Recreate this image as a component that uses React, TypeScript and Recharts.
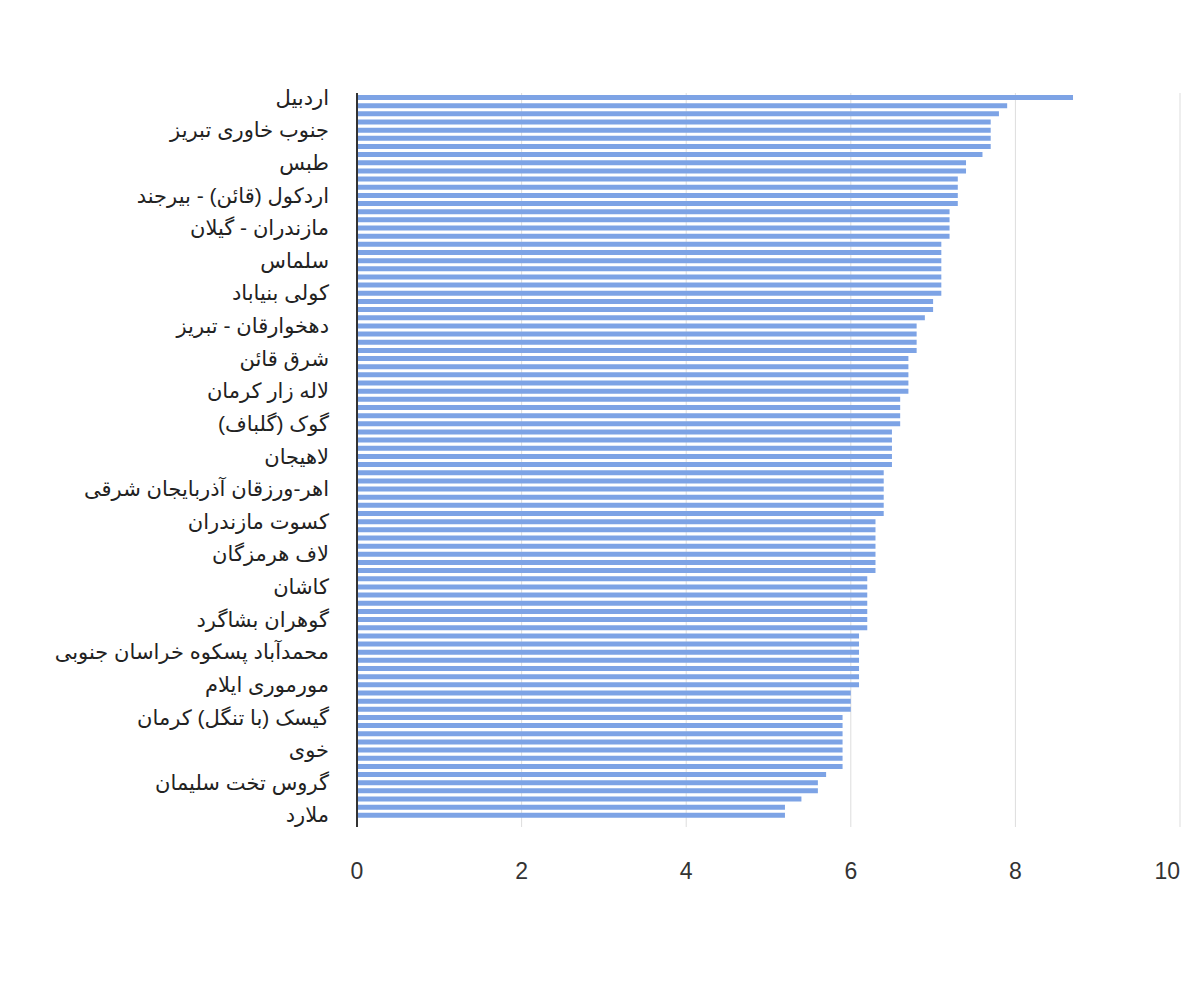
import { BarChart, Bar, XAxis, YAxis, CartesianGrid } from 'recharts';

// One name for every fourth bar (the only ones labelled on the axis)
const stations = [
  'اردبیل',
  'جنوب خاوری تبریز',
  'طبس',
  'اردکول (قائن) - بیرجند',
  'مازندران - گیلان',
  'سلماس',
  'کولی بنیاباد',
  'دهخوارقان - تبریز',
  'شرق قائن',
  'لاله زار کرمان',
  '(گلباف) گوک',
  'لاهیجان',
  'اهر-ورزقان آذربایجان شرقی',
  'کسوت مازندران',
  'لاف هرمزگان',
  'کاشان',
  'گوهران بشاگرد',
  'محمدآباد پسکوه خراسان جنوبی',
  'مورموری ایلام',
  'گیسک (با تنگل) کرمان',
  'خوی',
  'گروس تخت سلیمان',
  'ملارد',
];

const values = [
  8.7, 7.9, 7.8, 7.7, 7.7, 7.7, 7.7, 7.6,
  7.4, 7.4, 7.3, 7.3, 7.3, 7.3, 7.2, 7.2, 7.2, 7.2,
  7.1, 7.1, 7.1, 7.1, 7.1, 7.1, 7.1,
  7.0, 7.0, 6.9,
  6.8, 6.8, 6.8, 6.8,
  6.7, 6.7, 6.7, 6.7, 6.7,
  6.6, 6.6, 6.6, 6.6,
  6.5, 6.5, 6.5, 6.5, 6.5,
  6.4, 6.4, 6.4, 6.4, 6.4, 6.4,
  6.3, 6.3, 6.3, 6.3, 6.3, 6.3, 6.3,
  6.2, 6.2, 6.2, 6.2, 6.2, 6.2, 6.2,
  6.1, 6.1, 6.1, 6.1, 6.1, 6.1, 6.1,
  6.0, 6.0, 6.0,
  5.9, 5.9, 5.9, 5.9, 5.9, 5.9, 5.9,
  5.7, 5.6, 5.6, 5.4, 5.2, 5.2,
];

const xTicks = [0, 2, 4, 6, 8, 10];

const rows = values.map((v, i) => ({
  idx: i,
  name: i % 4 === 0 ? stations[i / 4] ?? '' : '',
  value: v,
}));

const FONT = "Arial, 'Liberation Sans', 'DejaVu Sans', sans-serif";

// station names, right-aligned against the axis
const StationTick = ({ x, y, payload }: any) => {
  const label = rows[payload.value]?.name ?? '';
  if (!label) return null;
  return (
    <text
      x={x}
      y={y}
      dy="0.36em"
      textAnchor="end"
      fill="#222"
      fontSize={21}
      fontFamily={FONT}
    >
      {label}
    </text>
  );
};

// the last value label is pulled inside the plot edge
const ValueTick = ({ x, y, payload }: any) => {
  const last = payload.value === xTicks[xTicks.length - 1];
  return (
    <text
      x={x}
      y={y}
      dy="0.71em"
      textAnchor={last ? 'end' : 'middle'}
      fill="#333"
      fontSize={23}
      fontFamily={FONT}
    >
      {payload.value}
    </text>
  );
};

export default function App() {
  return (
    <div style={{ position: 'absolute', left: 0, top: 0 }}>
      <BarChart
        width={1200}
        height={1000}
        data={rows}
        layout="vertical"
        margin={{ top: 93, right: 20, bottom: 110, left: 0 }}
        barSize={5}
      >
        <CartesianGrid horizontal={false} stroke="#dddddd" strokeWidth={1} />
        <XAxis
          type="number"
          domain={[0, 10]}
          ticks={xTicks}
          axisLine={false}
          tickLine={false}
          tickSize={0}
          tickMargin={36}
          height={63}
          tick={<ValueTick />}
        />
        <YAxis
          type="category"
          dataKey="idx"
          width={357}
          interval={3}
          padding={{ top: 0, bottom: 8 }}
          axisLine={{ stroke: '#333', strokeWidth: 2 }}
          tickLine={false}
          tickSize={0}
          tickMargin={28}
          tick={<StationTick />}
        />
        <Bar dataKey="value" fill="#7da3e5" isAnimationActive={false} />
      </BarChart>
    </div>
  );
}
